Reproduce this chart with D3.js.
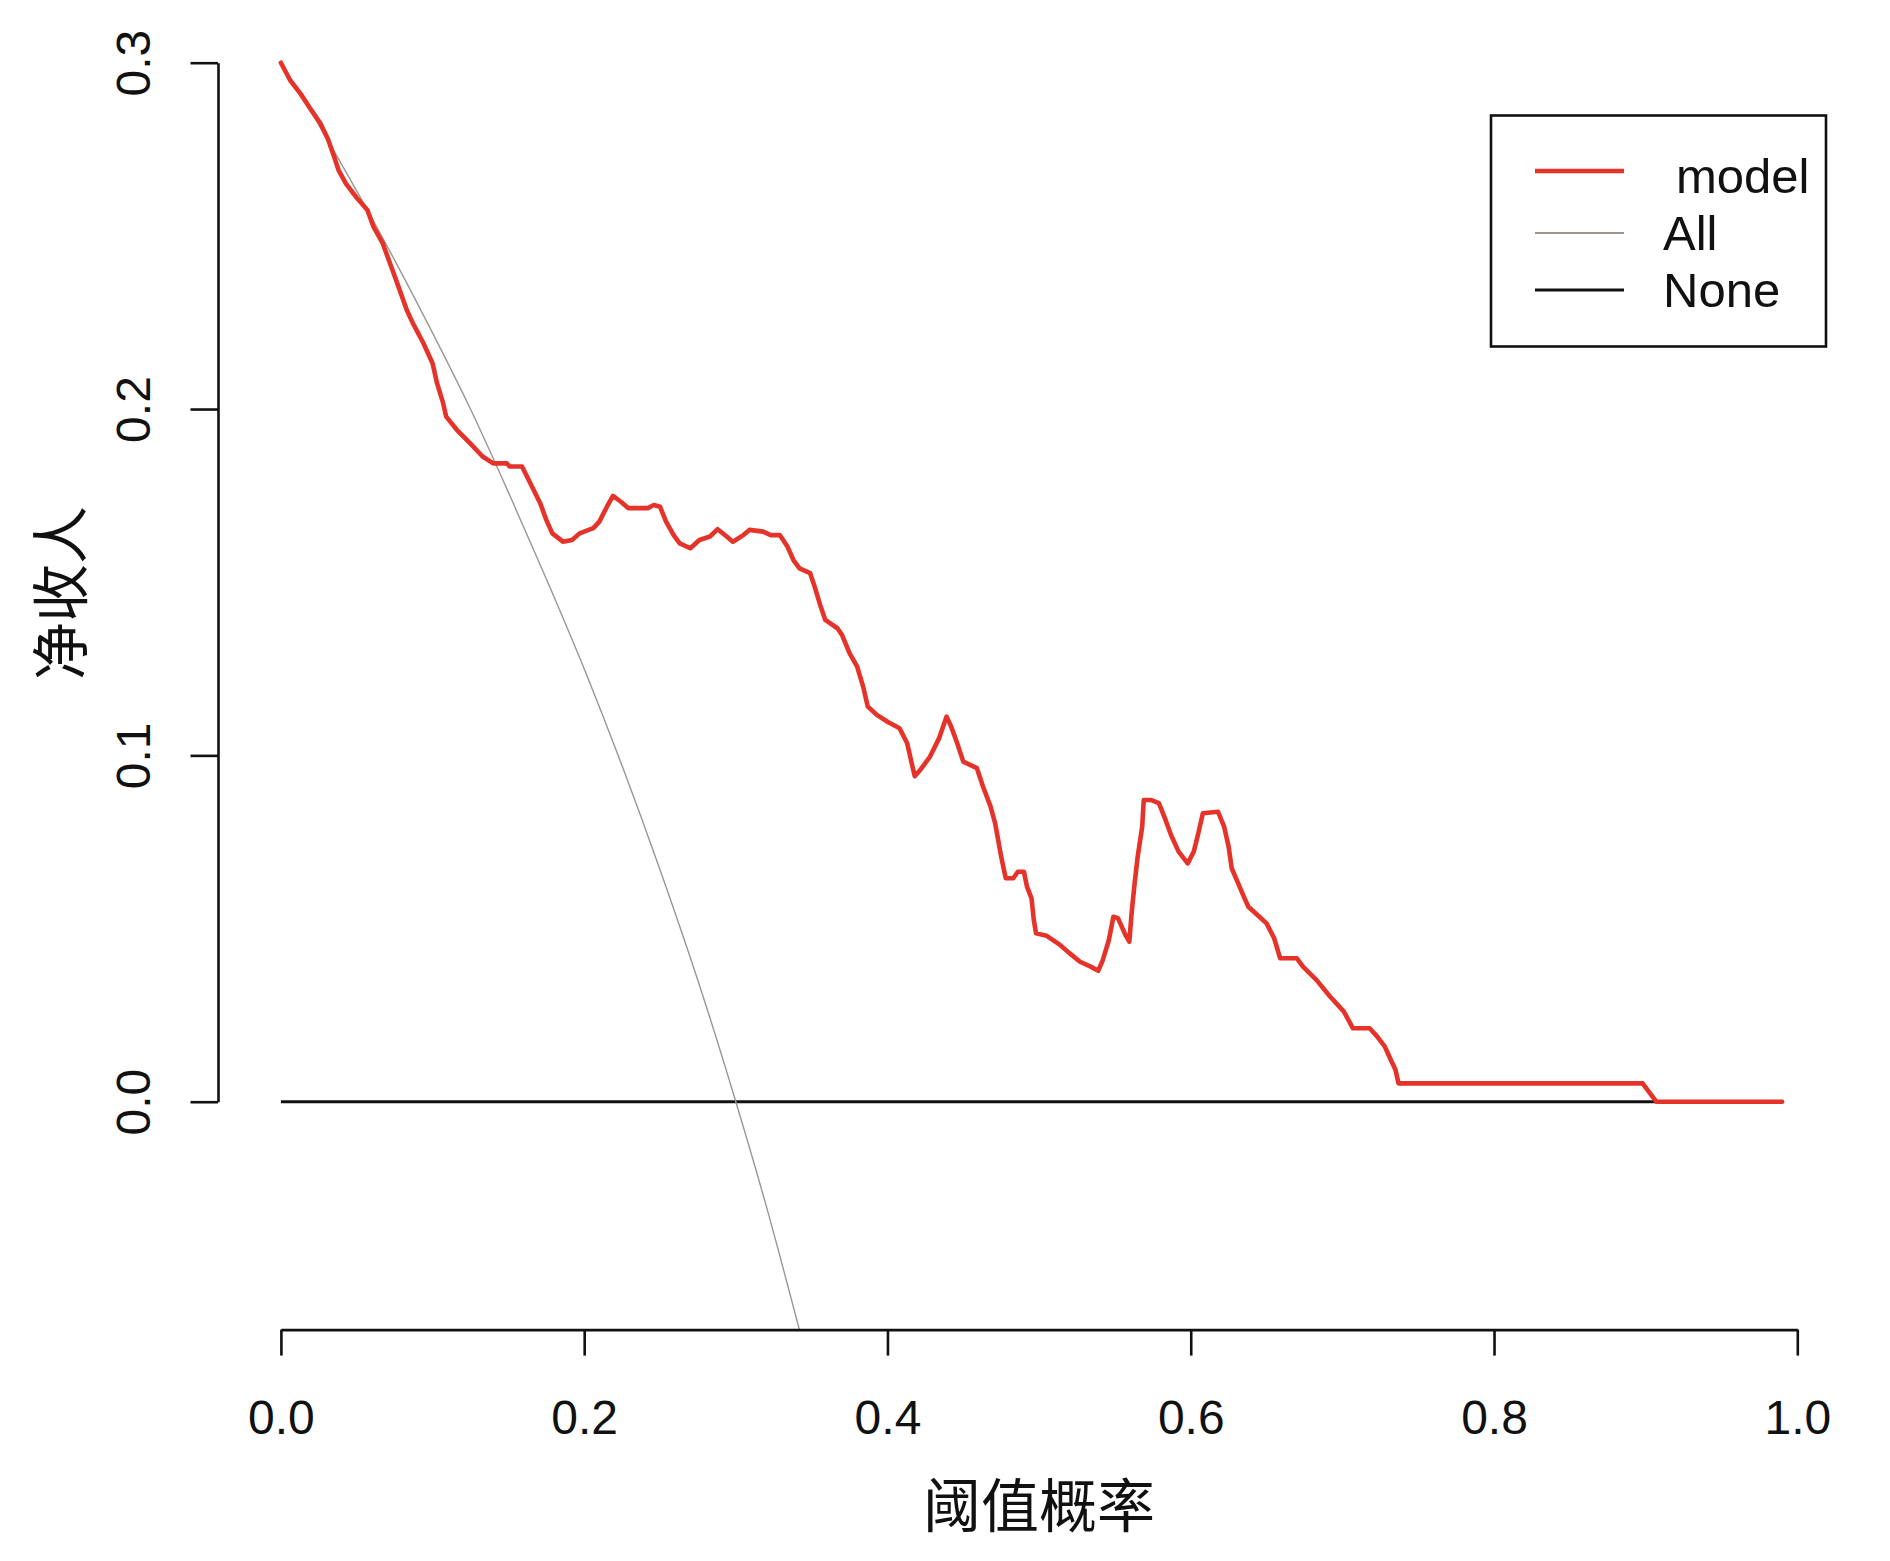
<!DOCTYPE html>
<meta charset="utf-8">
<style>
    body {
        margin: 0;
        background-color: #fff;
    }

    svg {
        display: block;
    }

    text {
        font-family: "Liberation Sans", Arial, sans-serif;
        fill: #111;
    }

    .cjk {
        font-family: "Noto Sans CJK SC", sans-serif;
    }

    .axis path,
    .axis line {
        stroke: #111;
        stroke-width: 2.6px;
    }
</style>
<svg width="1890" height="1561"></svg>
<script src="https://d3js.org/d3.v7.min.js"></script>
<script>
    // threshold probabilities and net benefit of the model
    var modelT = [0.000, 0.006, 0.013, 0.019, 0.026, 0.031, 0.035, 0.038, 0.043, 0.050,
        0.057, 0.061, 0.067, 0.072, 0.077, 0.083, 0.087, 0.094, 0.100, 0.103,
        0.107, 0.109, 0.116, 0.125, 0.133, 0.140, 0.149, 0.151, 0.159, 0.164,
        0.171, 0.175, 0.179, 0.186, 0.192, 0.197, 0.206, 0.210, 0.215, 0.219,
        0.224, 0.229, 0.242, 0.246, 0.250, 0.254, 0.259, 0.263, 0.270, 0.276,
        0.283, 0.288, 0.294, 0.298, 0.305, 0.309, 0.318, 0.323, 0.329, 0.334,
        0.338, 0.342, 0.349, 0.352, 0.356, 0.359, 0.367, 0.370, 0.375, 0.380,
        0.384, 0.387, 0.393, 0.400, 0.408, 0.413, 0.416, 0.418, 0.422, 0.428,
        0.434, 0.439, 0.442, 0.446, 0.450, 0.459, 0.463, 0.468, 0.471, 0.473,
        0.475, 0.478, 0.483, 0.486, 0.490, 0.492, 0.495, 0.4965, 0.498, 0.505,
        0.514, 0.520, 0.527, 0.534, 0.539, 0.542, 0.546, 0.549, 0.552, 0.557,
        0.5595, 0.561, 0.563, 0.565, 0.568, 0.569, 0.574, 0.579, 0.583, 0.587,
        0.592, 0.598, 0.602, 0.605, 0.608, 0.618, 0.622, 0.625, 0.627, 0.631,
        0.635, 0.638, 0.644, 0.650, 0.655, 0.659, 0.670, 0.674, 0.683, 0.692,
        0.701, 0.707, 0.718, 0.723, 0.728, 0.731, 0.735, 0.737, 0.898, 0.907,
        0.990];
    var modelNB = [0.300, 0.295, 0.291, 0.287, 0.2825, 0.278, 0.273, 0.269, 0.265, 0.261,
        0.2575, 0.2527, 0.248, 0.242, 0.236, 0.2286, 0.2248, 0.219, 0.2132, 0.2074,
        0.2017, 0.1978, 0.194, 0.190, 0.1863, 0.1843, 0.1843, 0.1834, 0.1834, 0.179,
        0.1728, 0.168, 0.1641, 0.1617, 0.1622, 0.1641, 0.1656, 0.1675, 0.1718, 0.1749,
        0.1733, 0.1714, 0.1714, 0.1723, 0.1718, 0.1675, 0.1636, 0.1612, 0.1598, 0.1622,
        0.1632, 0.1653, 0.1632, 0.1617, 0.1636, 0.1651, 0.1646, 0.1636, 0.1636, 0.1603,
        0.1564, 0.154, 0.1526, 0.1487, 0.1429, 0.1391, 0.1367, 0.1348, 0.1295, 0.1256,
        0.1198, 0.1141, 0.1117, 0.1097, 0.1078, 0.1035, 0.0977, 0.094, 0.096, 0.0996,
        0.1049, 0.1112, 0.1083, 0.1035, 0.0982, 0.0963, 0.091, 0.0852, 0.0804, 0.0756,
        0.0707, 0.0645, 0.0645, 0.0664, 0.0664, 0.0621, 0.0587, 0.0525, 0.0486, 0.0479,
        0.0452, 0.0429, 0.0404, 0.039, 0.0378, 0.0409, 0.0467, 0.0534, 0.053, 0.0481,
        0.0462, 0.0544, 0.0631, 0.0707, 0.0794, 0.0871, 0.0871, 0.0862, 0.0818, 0.077,
        0.0722, 0.0688, 0.0722, 0.0775, 0.0833, 0.0837, 0.0794, 0.0736, 0.0674, 0.0633,
        0.0592, 0.0563, 0.0539, 0.0515, 0.0472, 0.0414, 0.0414, 0.039, 0.0351, 0.0303,
        0.026, 0.0212, 0.0212, 0.0188, 0.0159, 0.013, 0.0092, 0.0053, 0.0053, 0.000,
        0.000];

    // treat-all line
    var allT = [0.000, 0.025, 0.050, 0.075, 0.100, 0.125, 0.150, 0.175, 0.200,
        0.225, 0.250, 0.275, 0.300, 0.320, 0.342];
    var allNB = [0.300, 0.282, 0.263, 0.243, 0.222, 0.200, 0.176, 0.151, 0.125,
        0.097, 0.067, 0.035, 0.000, -0.030, -0.066];

    // treat-none line
    var noneT = [0.000, 0.990];
    var noneNB = [0, 0];

    var xTicks = [0, 0.2, 0.4, 0.6, 0.8, 1.0];
    var yTicks = [0, 0.1, 0.2, 0.3];

    var legendLabels = ["model", "All", "None"];
    var legendColors = ["#e6332a", "#9d958f", "#111"];
    var legendWidths = [4.5, 2, 3];

    var svg = d3.select("svg");

    var x = d3.scaleLinear().domain([0, 1]).range([280.9, 1797.3]);
    var y = d3.scaleLinear().domain([0, 0.3]).range([1101.7, 62.7]);

    var plotLeft = 218,
        plotBottom = 1329.6;

    svg.append("defs").append("clipPath")
        .attr("id", "plot-clip")
        .append("rect")
        .attr("x", plotLeft)
        .attr("y", 10)
        .attr("width", 1830 - plotLeft)
        .attr("height", plotBottom - 10);

    function zip(ts, vs) {
        return ts.map(function(t, i) {
            return [t, vs[i]];
        });
    }

    var line = d3.line()
        .x(function(d) {
            return x(d[0]);
        })
        .y(function(d) {
            return y(d[1]);
        });

    var plot = svg.append("g").attr("clip-path", "url(#plot-clip)");

    plot.append("path")
        .datum(zip(noneT, noneNB))
        .attr("d", line)
        .attr("fill", "none")
        .attr("stroke", "#111")
        .attr("stroke-width", 3);

    plot.append("path")
        .datum(zip(allT, allNB))
        .attr("d", line.curve(d3.curveMonotoneX))
        .attr("fill", "none")
        .attr("stroke", "#9d958f")
        .attr("stroke-width", 1.4);

    line.curve(d3.curveLinear);

    plot.append("path")
        .datum(zip(modelT, modelNB))
        .attr("d", line)
        .attr("fill", "none")
        .attr("stroke", "#e6332a")
        .attr("stroke-width", 4.6)
        .attr("stroke-linejoin", "round")
        .attr("stroke-linecap", "round");

    // axes, R style: lines only over the tick range
    var xAxis = svg.append("g")
        .attr("class", "axis")
        .attr("transform", "translate(0," + plotBottom + ")")
        .call(d3.axisBottom(x)
            .tickValues(xTicks)
            .tickFormat(d3.format(".1f"))
            .tickSize(26)
            .tickSizeOuter(0));

    xAxis.selectAll("text")
        .attr("y", 104)
        .attr("dy", null)
        .style("font-size", "48px")
        .style("font-family", "'Liberation Sans', Arial, sans-serif")
        .attr("fill", "#111");

    var yAxis = svg.append("g")
        .attr("class", "axis")
        .attr("transform", "translate(" + plotLeft + ",0)")
        .call(d3.axisLeft(y)
            .tickValues(yTicks)
            .tickFormat(d3.format(".1f"))
            .tickSize(27.5)
            .tickSizeOuter(0));

    yAxis.selectAll("text")
        .attr("x", null)
        .attr("dy", null)
        .attr("text-anchor", "middle")
        .attr("dominant-baseline", "central")
        .attr("transform", "translate(-85,0) rotate(-90)")
        .style("font-size", "48px")
        .style("font-family", "'Liberation Sans', Arial, sans-serif")
        .attr("fill", "#111");

    svg.selectAll(".axis .domain").attr("stroke-width", 2.6);

    // axis titles
    svg.append("text")
        .attr("class", "cjk")
        .attr("x", x(0.5))
        .attr("y", 1502)
        .attr("text-anchor", "middle")
        .attr("dominant-baseline", "central")
        .style("font-size", "58px")
        .text("阈值概率");

    svg.append("text")
        .attr("class", "cjk")
        .attr("transform", "translate(57,593) rotate(-90)")
        .attr("text-anchor", "middle")
        .attr("dominant-baseline", "central")
        .style("font-size", "58px")
        .text("净收人");

    // legend
    var legend = svg.append("g");

    legend.append("rect")
        .attr("x", 1491)
        .attr("y", 115.5)
        .attr("width", 335)
        .attr("height", 231)
        .attr("fill", "#fff")
        .attr("stroke", "#111")
        .attr("stroke-width", 2.6);

    var rowY = [176, 233, 290];
    var textX = [1676, 1663, 1663];

    var rows = legend.selectAll(".row")
        .data(legendLabels)
        .enter().append("g")
        .attr("class", "row");

    rows.append("line")
        .attr("x1", 1535)
        .attr("x2", 1624)
        .attr("y1", function(d, i) {
            return rowY[i] - (i === 0 ? 5 : 0);
        })
        .attr("y2", function(d, i) {
            return rowY[i] - (i === 0 ? 5 : 0);
        })
        .attr("stroke", function(d, i) {
            return legendColors[i];
        })
        .attr("stroke-width", function(d, i) {
            return legendWidths[i];
        });

    rows.append("text")
        .attr("x", function(d, i) {
            return textX[i];
        })
        .attr("y", function(d, i) {
            return rowY[i];
        })
        .attr("dominant-baseline", "central")
        .style("font-size", "49px")
        .text(function(d) {
            return d;
        });
</script>
